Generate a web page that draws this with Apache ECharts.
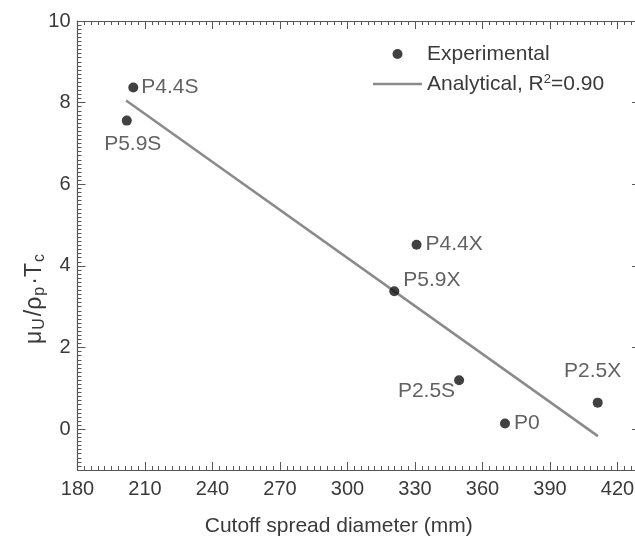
<!DOCTYPE html>
<html>
<head>
<meta charset="utf-8">
<script src="https://cdn.jsdelivr.net/npm/echarts@6/dist/echarts.min.js"></script>
<style>
  html, body { margin: 0; padding: 0; background: #fff; }
  #chart { width: 635px; height: 543px; }
</style>
</head>
<body>
<div id="chart"></div>
<script>
// 数据
var pointNames = ['P4.4S', 'P5.9S', 'P5.9X', 'P4.4X', 'P2.5S', 'P0', 'P2.5X'];
var pointX = [204.8, 201.9, 320.8, 330.7, 349.6, 370, 411.2];
var pointY = [8.37, 7.56, 3.38, 4.52, 1.2, 0.14, 0.65];
var fitX = [201.6, 411.3];
var fitY = [8.05, -0.17];
var yMajorTicks = [0, 2, 4, 6, 8, 10];
var yMinorInts = [-1, 1, 3, 5, 7, 9];

var font = 'Liberation Sans, Arial, sans-serif';
var textColor = '#3a3a3a';
var axisColor = '#555';

// 每个点的标签位置
var labelCfg = {
    'P4.4S': { position: 'right', distance: 3, offset: [0, 0] },
    'P5.9S': { position: 'bottom', distance: 4, offset: [6, 4] },
    'P5.9X': { position: 'right', distance: 4, offset: [0, -11] },
    'P4.4X': { position: 'right', distance: 4, offset: [0, 0] },
    'P2.5S': { position: 'left', distance: 4, offset: [5, 11] },
    'P0': { position: 'right', distance: 4, offset: [0, 0] },
    'P2.5X': { position: 'top', distance: 4, offset: [-5, -12] }
};

var scatterData = pointNames.map(function (n, i) {
    var c = labelCfg[n];
    return {
        name: n,
        value: [pointX[i], pointY[i]],
        label: {
            show: true,
            formatter: n,
            position: c.position,
            distance: c.distance,
            offset: c.offset
        }
    };
});
var lineData = fitX.map(function (x, i) { return [x, fitY[i]]; });

var myChart = echarts.init(document.getElementById('chart'));

function xAx(pos, showLabel) {
    return {
        type: 'value',
        position: pos,
        min: 180,
        max: 430,
        interval: 30,
        axisLine: { show: true, onZero: false, lineStyle: { color: axisColor, width: 1.2 } },
        axisTick: { show: true, inside: true, length: 8, lineStyle: { color: axisColor } },
        minorTick: { show: true, splitNumber: 10, length: 4, lineStyle: { color: axisColor } },
        splitLine: { show: false },
        axisLabel: {
            show: showLabel,
            margin: 9,
            color: textColor,
            fontSize: 20,
            fontFamily: font,
            formatter: function (v) { return v > 420 ? '' : String(v); }
        }
    };
}

function yAx(pos) {
    return {
        type: 'value',
        position: pos,
        min: -1,
        max: 10,
        interval: 1,
        axisLine: { show: true, onZero: false, lineStyle: { color: axisColor, width: 1.2 } },
        axisTick: { show: true, inside: true, length: 8, customValues: yMajorTicks, lineStyle: { color: axisColor } },
        minorTick: { show: true, splitNumber: 10, length: 4, lineStyle: { color: axisColor } },
        splitLine: { show: false },
        axisLabel: { show: false }
    };
}

var yLeft = yAx('left');
yLeft.axisLabel = { show: true, margin: 7, color: textColor, fontSize: 20, fontFamily: font, customValues: yMajorTicks };
yLeft.name = 'μ{s|U}/ρ{s|p}·T{s|c}';
yLeft.nameLocation = 'middle';
yLeft.nameRotate = 90;
yLeft.nameGap = 30;
yLeft.nameMoveOverlap = false;
yLeft.nameTextStyle = {
    color: textColor,
    fontSize: 23,
    fontFamily: font,
    padding: [0, 105, 0, 0],
    rich: {
        s: { fontSize: 16, verticalAlign: 'bottom', padding: [9, 2, 0, 1], color: textColor, fontFamily: font }
    }
};

var option = {
    animation: false,
    backgroundColor: '#fff',
    grid: {
        left: 77.5,
        right: -5,
        top: 21,
        bottom: 73,
        containLabel: false,
        outerBoundsMode: 'none'
    },
    legend: {
        orient: 'vertical',
        left: 368,
        top: 38,
        itemWidth: 49,
        itemHeight: 10,
        itemGap: 8,
        textStyle: {
            color: textColor,
            fontSize: 21,
            fontFamily: font,
            lineHeight: 22,
            rich: {
                sup: { fontSize: 13, verticalAlign: 'top', padding: [0, 0, 9, 0], color: textColor, fontFamily: font }
            }
        },
        formatter: function (name) {
            return name === 'Analytical' ? 'Analytical, R{sup|2}=0.90' : name;
        },
        data: [
            { name: 'Experimental', icon: 'circle' },
            { name: 'Analytical', icon: 'path://M0,0L49,0L49,2.5L0,2.5Z' }
        ]
    },
    xAxis: [
        Object.assign(xAx('bottom', true), {
            name: 'Cutoff spread diameter (mm)',
            nameLocation: 'middle',
            nameGap: 46,
            nameTextStyle: { color: textColor, fontSize: 21, fontFamily: font, padding: [0, 40, 0, 0] }
        }),
        xAx('top', false)
    ],
    yAxis: [
        yLeft,
        yAx('right'),
        {
            // 奇数位置的短刻度
            type: 'value',
            position: 'left',
            min: -1,
            max: 10,
            interval: 1,
            axisLine: { show: false },
            axisTick: { show: true, inside: true, length: 4, customValues: yMinorInts, lineStyle: { color: axisColor } },
            splitLine: { show: false },
            axisLabel: { show: false }
        }
    ],
    series: [
        {
            name: 'Analytical',
            type: 'line',
            data: lineData,
            symbol: 'none',
            showSymbol: false,
            lineStyle: { color: '#8a8a8a', width: 2.5 },
            itemStyle: { color: '#8a8a8a' },
            z: 2
        },
        {
            name: 'Experimental',
            type: 'scatter',
            data: scatterData,
            symbol: 'circle',
            symbolSize: 10,
            itemStyle: { color: '#111' },
            label: { color: textColor, fontSize: 21, fontFamily: font },
            z: 3
        }
    ]
};
myChart.setOption(option);
</script>
</body>
</html>
